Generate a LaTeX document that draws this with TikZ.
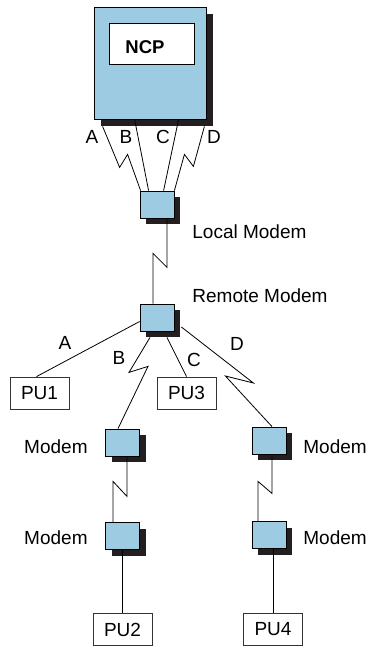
\documentclass[tikz,border=0pt]{standalone}
\usepackage{fontspec}
\setmainfont{Liberation Sans}
\usetikzlibrary{shadows}
\definecolor{modemblue}{RGB}{156,203,226}
\definecolor{shadowgray}{RGB}{35,31,32}

\begin{document}
\begin{tikzpicture}[x=1pt, y=-1pt, line width=0.8pt,
    font=\fontsize{19}{22}\selectfont,
    modem/.style={draw, fill=modemblue, minimum width=34pt, minimum height=27pt, inner sep=0pt,
        drop shadow={shadow xshift=6pt, shadow yshift=-6pt, fill=shadowgray, opacity=1}},
    pu/.style={draw, black!80, text=black, minimum width=59pt, minimum height=32pt, inner sep=0pt},
    lbl/.style={inner sep=0pt}]

    \useasboundingbox (0,0) rectangle (369,648);

    % 1. Khối NCP
    \node[draw, fill=modemblue, minimum width=112pt, minimum height=112pt,
        drop shadow={shadow xshift=7pt, shadow yshift=-7pt, fill=shadowgray, opacity=1}]
        (ncp) at (150,63) {};
    \node[draw, fill=white, minimum width=85pt, minimum height=41pt] (ncpbox) at (151.5,43.5) {};
    \node[lbl, font=\fontsize{18.5}{22}\selectfont\bfseries] (ncptxt) at (145,47) {NCP};

    % 2. Các modem
    \node[modem] (lm) at (157,204.5) {};
    \node[modem] (rm) at (157,317.5) {};
    \node[modem] (mb) at (122.5,442.5) {};
    \node[modem] (mb2) at (122.5,536) {};
    \node[modem] (md) at (269,440.5) {};
    \node[modem] (md2) at (269,535) {};

    % 3. Các PU
    \node[pu] (pu1) at (39.5,393) {PU1};
    \node[pu] (pu3) at (186.5,393) {PU3};
    \node[pu] (pu2) at (122.5,629.5) {PU2};
    \node[pu] (pu4) at (273,629.5) {PU4};

    % 4. Đường nối NCP - Local Modem
    \draw ([xshift=9pt, yshift=-7pt]ncp.south west) -- ++(17,41) -- ++(8,-13)
        -- ([xshift=1pt]lm.north west);
    \draw ([xshift=41pt]ncp.south west) -- ([xshift=9pt]lm.north west);
    \draw ([xshift=85pt]ncp.south west) -- ([xshift=24pt]lm.north west);
    \draw ([xshift=-2pt, yshift=-7pt]ncp.south east) -- ++(-11,40) -- ++(-9,-12)
        -- (lm.north east);
    \node[lbl] (la1) at (92,137) {A};
    \node[lbl] (lb1) at (126,137) {B};
    \node[lbl] (lc1) at (163,137) {C};
    \node[lbl] (ld1) at (214,137) {D};

    % 5. Local Modem - Remote Modem
    \draw ([xshift=10pt]lm.south) -- ++(0,49) -- ++(-14,-14) -- ([xshift=-4pt]rm.north);
    \node[lbl, anchor=west] (lmtxt) at (192,232) {Local Modem};
    \node[lbl, anchor=west] (rmtxt) at (192,296) {Remote Modem};

    % 6. Remote Modem - các nhánh A, B, C, D
    \draw ([yshift=-4pt]rm.west) -- ([xshift=-3pt]pu1.north);
    \draw ([xshift=-7pt, yshift=-6pt]rm.south) -- ++(-21,35) -- ++(19,-6)
        -- ([xshift=-4.5pt]mb.north);
    \draw ([xshift=10pt, yshift=-6pt]rm.south) -- (pu3.north);
    \draw ([xshift=7pt, yshift=-9.5pt]rm.east) -- ++(72,56) -- ++(-28,-7)
        -- ([xshift=3pt]md.north);
    \node[lbl] (la2) at (65,343) {A};
    \node[lbl] (lb2) at (119,358) {B};
    \node[lbl] (lc2) at (194,360) {C};
    \node[lbl] (ld2) at (237,344) {D};

    % 7. Nhánh B: Modem - Modem - PU2
    \draw ([xshift=4.5pt]mb.south) -- ++(0,40) -- ++(-14,-15) -- ([xshift=-9.5pt]mb2.north);
    \draw (mb2.south) -- (pu2.north);
    \node[lbl, anchor=east] (mbtxt) at (88,447) {Modem};
    \node[lbl, anchor=east] (mb2txt) at (88,538) {Modem};

    % 8. Nhánh D: Modem - Modem - PU4
    \draw ([xshift=3pt]md.south) -- ++(0,39) -- ++(-14,-12) -- ([xshift=-11pt]md2.north);
    \draw ([xshift=4pt]md2.south) -- (pu4.north);
    \node[lbl, anchor=west] (mdtxt) at (303,447) {Modem};
    \node[lbl, anchor=west] (md2txt) at (303,538) {Modem};
\end{tikzpicture}
\end{document}
